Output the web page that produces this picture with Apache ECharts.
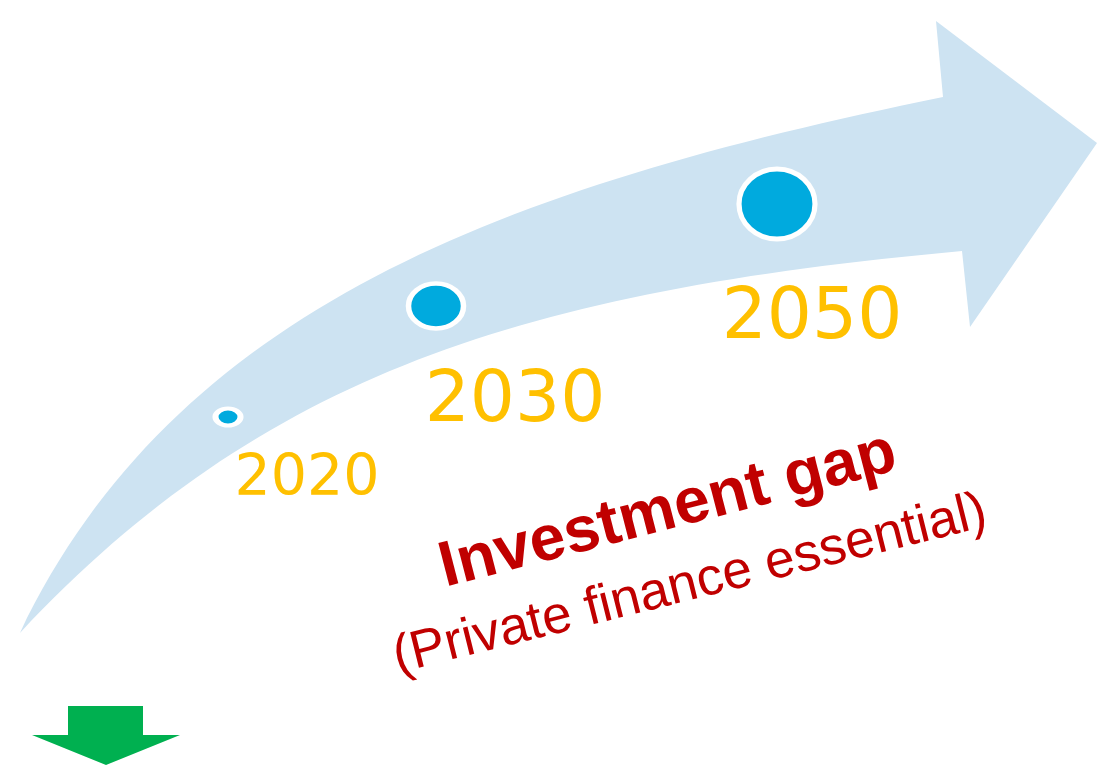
<!DOCTYPE html>
<html>
<head>
<meta charset="utf-8">
<script src="https://cdn.jsdelivr.net/npm/echarts/dist/echarts.min.js"></script>
<style>
html,body{margin:0;padding:0;background:#ffffff;}
#chart{width:1097px;height:768px;}
</style>
</head>
<body>
<div id="chart"></div>
<script>
// ---- data (in the chart's own coordinate space) ----
const years = ['2020', '2030', '2050'];
const bubbleX = [228, 436, 777];
const bubbleY = [417, 306, 204];
const bubbleW = [25, 55, 76];
const bubbleH = [17, 45, 70];
const yearLabelX = [307, 515, 812];
const yearLabelY = [480, 403, 320];

// curved arrow outline: each edge is one cubic Bezier (start, control 1, control 2, end)
const arrowUpperEdge = [[20,633],[175,309],[502,187],[943,97]];
const arrowLowerEdge = [[20,633],[263,374],[524,291],[962,251]];
const arrowHead = [[943,97],[936,21],[1097,143],[970,327],[962,251]];
const downArrow = [[68,706],[143,706],[143,735],[180,735],[106,765],[32,735],[68,735]];

const gapTitle = 'Investment gap';
const gapSubtitle = '(Private finance essential)';
const gapTitlePos = [668, 511];
const gapSubtitlePos = [690, 585];

// ---- styles ----
const COL_ARROW = '#CDE3F2';
const COL_BUBBLE = '#00AADE';
const COL_YEAR = '#FFC000';
const COL_RED = '#C00000';
const COL_GREEN = '#00B050';
const yearFontSize = [57, 71, 71];
const titleAngle = 14.5 * Math.PI / 180;
const subtitleAngle = 14 * Math.PI / 180;

function pt(p) { return p[0].toFixed(2) + ',' + p[1].toFixed(2); }

const chart = echarts.init(document.getElementById('chart'), null, {renderer: 'canvas'});
chart.setOption({
  animation: false,
  backgroundColor: '#ffffff',
  grid: {left: 0, right: 0, top: 0, bottom: 0},
  xAxis: {type: 'value', min: 0, max: 1097, show: false},
  yAxis: {type: 'value', min: 0, max: 768, inverse: true, show: false},
  series: [
    {
      type: 'custom', silent: true, z: 1,
      data: [0],
      renderItem: function (params, api) {
        const up = arrowUpperEdge.map(p => api.coord(p));
        const low = arrowLowerEdge.map(p => api.coord(p));
        const head = arrowHead.map(p => api.coord(p));
        let d = 'M' + pt(up[0]) + ' C' + pt(up[1]) + ' ' + pt(up[2]) + ' ' + pt(up[3]);
        for (let i = 1; i < head.length; i++) d += ' L' + pt(head[i]);
        d += ' L' + pt(low[3]) + ' C' + pt(low[2]) + ' ' + pt(low[1]) + ' ' + pt(low[0]) + ' Z';
        return {type: 'path', shape: {pathData: d}, style: {fill: COL_ARROW}};
      }
    },
    {
      type: 'custom', silent: true, z: 1,
      data: [0],
      renderItem: function (params, api) {
        return {type: 'polygon', shape: {points: downArrow.map(p => api.coord(p))}, style: {fill: COL_GREEN}};
      }
    },
    {
      type: 'scatter', silent: true, z: 3,
      symbol: 'circle',
      data: bubbleX.map((x, i) => [x, bubbleY[i], bubbleW[i], bubbleH[i]]),
      symbolSize: v => [v[2], v[3]],
      itemStyle: {color: COL_BUBBLE, borderColor: '#ffffff', borderWidth: 5, opacity: 1},
      emphasis: {disabled: true}
    },
    {
      type: 'custom', silent: true, z: 4,
      data: years.map((y, i) => [yearLabelX[i], yearLabelY[i], i]),
      renderItem: function (params, api) {
        const i = api.value(2);
        const p = api.coord([api.value(0), api.value(1)]);
        return {
          type: 'text', x: p[0], y: p[1],
          style: {text: years[i], fill: COL_YEAR, font: yearFontSize[i] + 'px "DejaVu Sans"', align: 'center', verticalAlign: 'middle'}
        };
      }
    },
    {
      type: 'custom', silent: true, z: 4,
      data: [[gapTitlePos[0], gapTitlePos[1], 0], [gapSubtitlePos[0], gapSubtitlePos[1], 1]],
      renderItem: function (params, api) {
        const k = api.value(2);
        const p = api.coord([api.value(0), api.value(1)]);
        return {
          type: 'text', x: p[0], y: p[1], rotation: k === 0 ? titleAngle : subtitleAngle,
          style: {
            text: k === 0 ? gapTitle : gapSubtitle,
            fill: COL_RED,
            font: k === 0 ? 'bold 64px "Liberation Sans", Arial, sans-serif' : '53px "Liberation Sans", Arial, sans-serif',
            align: 'center', verticalAlign: 'middle'
          }
        };
      }
    }
  ]
});
</script>
</body>
</html>
